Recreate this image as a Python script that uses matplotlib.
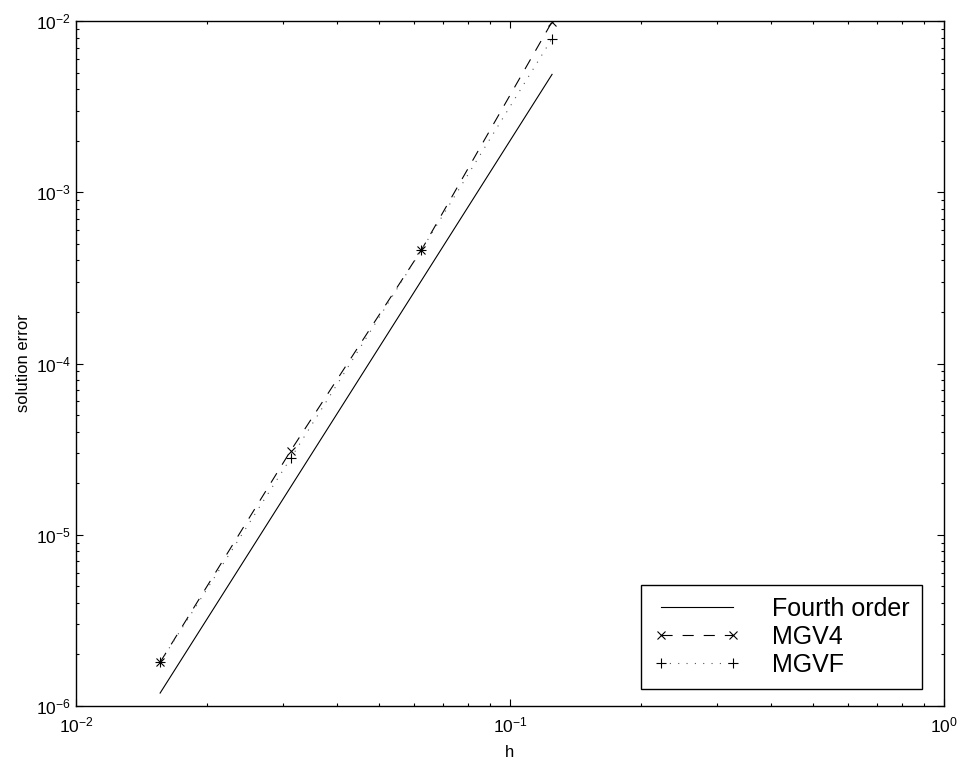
import numpy as np
import matplotlib.pyplot as plt

plt.rcParams['font.family'] = ['Liberation Sans', 'DejaVu Sans']
plt.rcParams['mathtext.fontset'] = 'custom'
plt.rcParams['mathtext.rm'] = 'Liberation Sans'
plt.rcParams['mathtext.it'] = 'Liberation Sans'

# mesh sizes and errors
h = [1/64, 1/32, 1/16, 1/8]
h_ref = [1/64, 1/8]
err_ref = [1.19e-6, 4.88e-3]
err_mgv4 = [1.8e-6, 3.1e-5, 4.6e-4, 9.9e-3]
err_mgvf = [1.8e-6, 2.8e-5, 4.6e-4, 7.9e-3]

fig = plt.figure(figsize=(9.63, 7.67), dpi=100)
ax = fig.add_axes([76/963, 61/767, 868/963, 685/767])

ax.loglog(h_ref, err_ref, color='black', linewidth=0.8, label='Fourth order')
ax.loglog(h, err_mgv4, color='black', linewidth=0.8, linestyle=(0, (10, 9)),
          marker='x', markersize=6, markeredgewidth=0.8, label='MGV4')
ax.loglog(h, err_mgvf, color='#555555', linewidth=0.8, linestyle=(0, (1, 6.5)),
          marker='+', markersize=7, markeredgewidth=0.8, markeredgecolor='black',
          label='MGVF')

ax.set_xlim(1e-2, 1e0)
ax.set_ylim(1e-6, 1e-2)
ax.set_xlabel('h', fontsize=12, labelpad=7)
ax.set_ylabel('solution error', fontsize=12, labelpad=4)

ax.tick_params(which='both', direction='in', top=True, right=True, labelsize=12.5)
ax.tick_params(axis='x', which='both', pad=7)
ax.tick_params(which='major', length=5, width=0.8)
ax.tick_params(which='minor', length=2.5, width=0.8)
for s in ax.spines.values():
    s.set_linewidth(1.0)

leg = ax.legend(loc='lower right', bbox_to_anchor=(922/963, 78/767), bbox_transform=fig.transFigure,
                fontsize=18, numpoints=2, handlelength=3.5, handletextpad=1.25,
                borderpad=0.5, labelspacing=0.15, fancybox=False, framealpha=1,
                edgecolor='black', borderaxespad=0)
leg.get_frame().set_linewidth(1.0)

fig.savefig('out.png', dpi=100)
